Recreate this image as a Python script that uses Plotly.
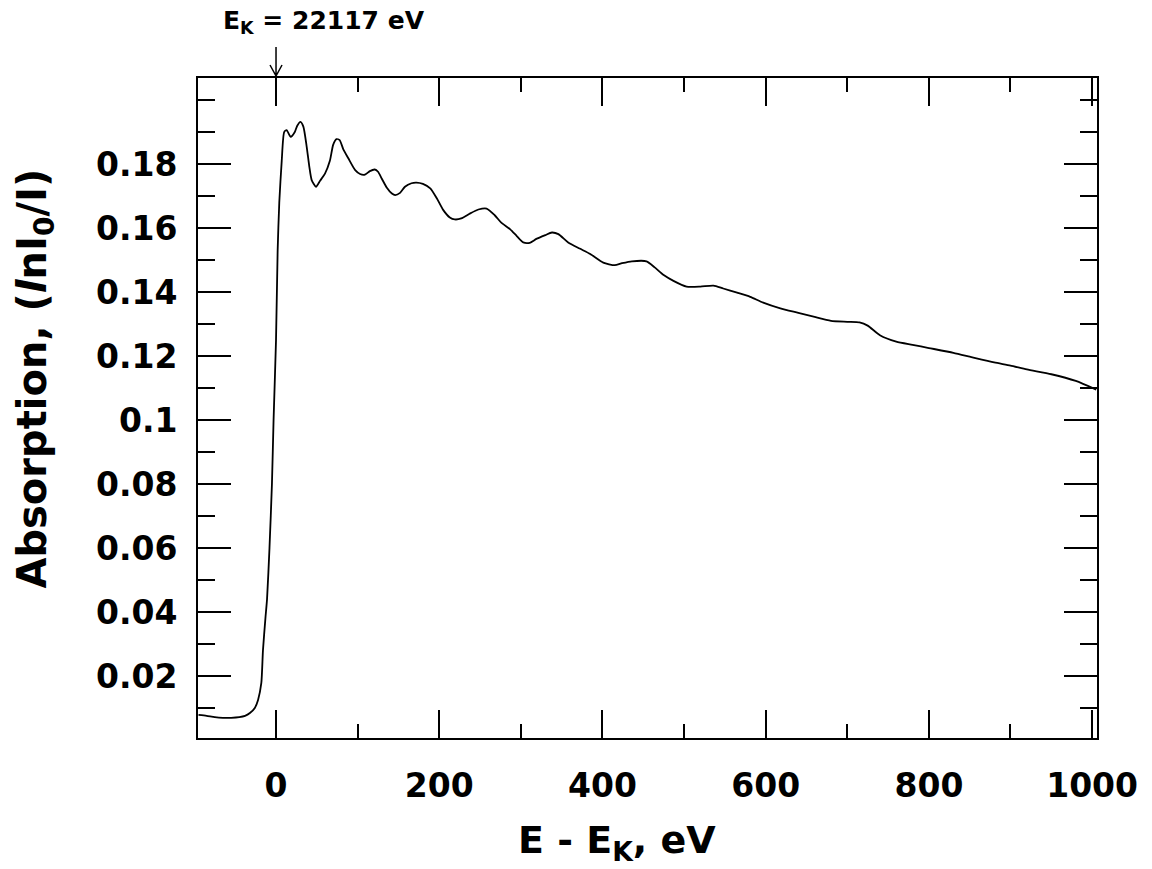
import plotly.graph_objects as go

# Absorption spectrum around the K edge (energy relative to E_K = 22117 eV)
energy_ev = [
    -95, -85, -75, -65, -55, -45, -38, -32, -26, -22, -18, -16, -13, -11,
    -8, -5, -3, 0, 2, 4, 7, 10, 13, 18, 23, 26, 30, 33.5, 37.6, 40.8, 43.7,
    49, 54, 60, 66, 70, 74, 78, 82.5, 88.6, 97, 103, 109, 115, 121, 125,
    129.5, 135.6, 142, 146, 152, 158, 166, 172, 180, 189, 197, 205, 213,
    219, 227, 238, 248, 258, 268, 276, 287, 295, 303, 311, 319, 330, 338,
    346, 358, 372, 385, 401, 415, 424, 436, 454, 464, 475, 487, 503, 520,
    536, 548, 565, 581, 597, 618, 640, 660, 680, 700, 715, 725, 740, 760,
    780, 800, 830, 850, 880, 900, 920, 950, 980, 1005,
]
absorption = [
    0.0078, 0.0075, 0.0071, 0.0069, 0.0069, 0.0071, 0.0075, 0.0084, 0.0100,
    0.0125, 0.0178, 0.0280, 0.0380, 0.0440, 0.0600, 0.0800, 0.1000, 0.1250,
    0.1530, 0.1680, 0.1810, 0.1900, 0.1906, 0.1885, 0.1900, 0.1920, 0.1932,
    0.1917, 0.1854, 0.1792, 0.1750, 0.1729, 0.1748, 0.1770, 0.1810, 0.1860,
    0.1878, 0.1875, 0.1846, 0.1818, 0.1781, 0.1769, 0.1767, 0.1778, 0.1783,
    0.1776, 0.1755, 0.1727, 0.1708, 0.1703, 0.1710, 0.1729, 0.1740, 0.1742,
    0.1738, 0.1724, 0.1693, 0.1656, 0.1633, 0.1627, 0.1630, 0.1646, 0.1658,
    0.1661, 0.1640, 0.1617, 0.1596, 0.1575, 0.1555, 0.1554, 0.1566, 0.1578,
    0.1586, 0.1581, 0.1555, 0.1536, 0.1519, 0.1492, 0.1484, 0.1490, 0.1496,
    0.1496, 0.1477, 0.1453, 0.1435, 0.1417, 0.1417, 0.1420, 0.1411, 0.1398,
    0.1385, 0.1367, 0.1349, 0.1335, 0.1322, 0.1310, 0.1307, 0.1305, 0.1295,
    0.1265, 0.1245, 0.1235, 0.1225, 0.1210, 0.1198, 0.1180, 0.1170, 0.1158,
    0.1143, 0.1122, 0.1095,
]

x_major = [0, 200, 400, 600, 800, 1000]
x_minor = [100, 300, 500, 700, 900]
y_major = [0.02, 0.04, 0.06, 0.08, 0.10, 0.12, 0.14, 0.16, 0.18]
y_labels = ["0.02", "0.04", "0.06", "0.08", "0.1", "0.12", "0.14", "0.16", "0.18"]
y_minor = [0.01, 0.03, 0.05, 0.07, 0.09, 0.11, 0.13, 0.15, 0.17, 0.19, 0.20]

edge_label = "E<sub>K</sub> = 22117 eV"

FONT = "DejaVu Sans"

fig = go.Figure()
fig.add_trace(go.Scatter(
    x=energy_ev, y=absorption, mode="lines",
    line=dict(color="black", width=1.8, shape="spline", smoothing=0.6),
    showlegend=False, hoverinfo="skip",
))

fig.update_layout(
    width=1152, height=869,
    margin=dict(l=198, r=55, t=78, b=131),
    paper_bgcolor="white", plot_bgcolor="white",
    font=dict(family=FONT, color="black"),
)

fig.update_xaxes(
    range=[-95.6, 1006], showgrid=False, zeroline=False,
    showline=True, linecolor="black", linewidth=2, mirror="allticks",
    tickmode="array", tickvals=x_major, ticktext=[str(v) for v in x_major],
    ticks="inside", ticklen=28, tickwidth=2, tickcolor="black",
    tickfont=dict(family=FONT, size=33, weight="bold"),
    ticklabelstandoff=17,
    minor=dict(tickmode="array", tickvals=x_minor, ticks="inside",
               ticklen=14, tickwidth=2, tickcolor="black", showgrid=False),
)
fig.update_yaxes(
    range=[0.0006, 0.2069], showgrid=False, zeroline=False,
    showline=True, linecolor="black", linewidth=2, mirror="allticks",
    tickmode="array", tickvals=y_major, ticktext=y_labels,
    ticks="inside", ticklen=33, tickwidth=2, tickcolor="black",
    tickfont=dict(family=FONT, size=33, weight="bold"),
    ticklabelstandoff=12,
    minor=dict(tickmode="array", tickvals=y_minor, ticks="inside",
               ticklen=17, tickwidth=2, tickcolor="black", showgrid=False),
)

# Axis titles
fig.add_annotation(
    text="Absorption, (<i>l</i>nI<sub>0</sub>/I)", textangle=-90,
    xref="paper", yref="paper", x=-0.181, y=0.545,
    xanchor="center", yanchor="middle", showarrow=False,
    font=dict(family=FONT, size=40, weight="bold", color="black"),
)
fig.add_annotation(
    text="E - E<sub>K</sub>, eV",
    xref="paper", yref="paper", x=0.466, y=-0.158,
    xanchor="center", yanchor="middle", showarrow=False,
    font=dict(family=FONT, size=38, weight="bold", color="black"),
)

# Edge position marker
fig.add_annotation(
    text=edge_label, xref="paper", yref="paper", x=0.1407, y=1.085,
    xanchor="center", yanchor="middle", showarrow=False,
    font=dict(family=FONT, size=25, weight="bold", color="black"),
)
fig.add_shape(
    type="path", xref="x", yref="paper",
    xsizemode="pixel", xanchor=0, ysizemode="pixel", yanchor=1,
    path="M0,31 L0,2 M-6,13 L0,2 L6,13",
    line=dict(color="black", width=1.5),
)

fig.write_html("out.html")
